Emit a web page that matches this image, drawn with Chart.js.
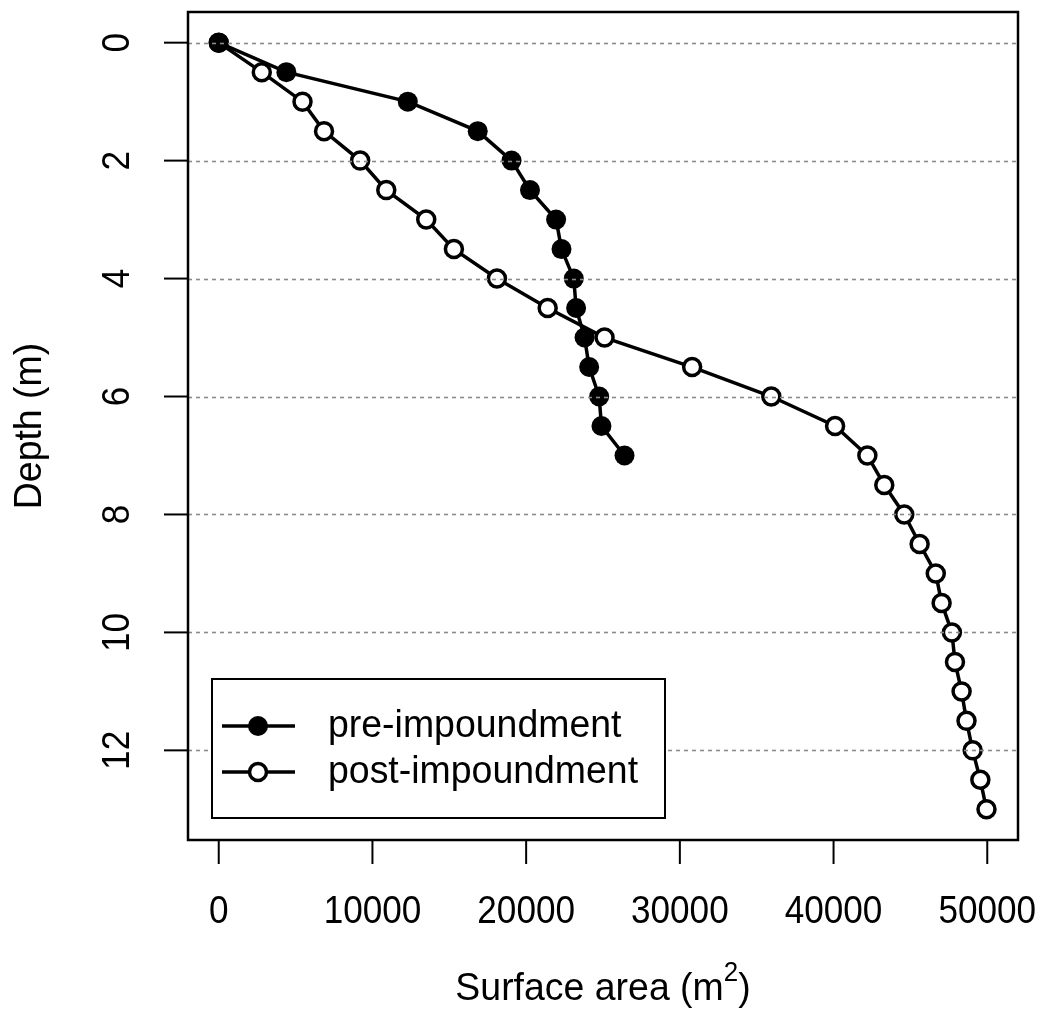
<!DOCTYPE html>
<html>
<head>
<meta charset="utf-8">
<script src="https://cdn.jsdelivr.net/npm/chart.js@4.4.1/dist/chart.umd.min.js"></script>
<style>
  html, body { margin: 0; padding: 0; background: #fff; }
</style>
</head>
<body>
<canvas id="depth-area-chart" width="1045" height="1016"></canvas>
<script>
const preDepth = [0, 0.5, 1, 1.5, 2, 2.5, 3, 3.5, 4, 4.5, 5, 5.5, 6, 6.5, 7];
const preArea = [0, 4400, 12300, 16850, 19050, 20250, 21950, 22300, 23100, 23250, 23800, 24100, 24750, 24900, 26400];

const postDepth = [0, 0.5, 1, 1.5, 2, 2.5, 3, 3.5, 4, 4.5, 5, 5.5, 6, 6.5, 7, 7.5, 8, 8.5, 9, 9.5, 10, 10.5, 11, 11.5, 12, 12.5, 13];
const postArea = [0, 2800, 5450, 6850, 9200, 10900, 13500, 15300, 18100, 21400, 25100, 30800, 35950, 40100, 42200, 43300, 44600, 45600, 46650, 47030, 47700, 47900, 48330, 48650, 49050, 49550, 49950];

const depthTicks = [0, 2, 4, 6, 8, 10, 12];
const areaTicks = [0, 10000, 20000, 30000, 40000, 50000];
const seriesNames = ['pre-impoundment', 'post-impoundment'];

const FONT = '"Liberation Sans", Arial, Helvetica, sans-serif';

const toPoints = (xs, ys) => xs.map((x, i) => ({ x, y: ys[i] }));

// text with a slight horizontal squeeze, the reference font is narrower than Arial
const drawText = (ctx, text, x, y, opts) => {
    const { size, sx = 1, rotate = 0, align = 'center', baseline = 'middle' } = opts;
    ctx.save();
    ctx.translate(x, y);
    if (rotate) {
        ctx.rotate(rotate);
    }
    ctx.scale(sx, 1);
    ctx.font = `${size}px ${FONT}`;
    ctx.textAlign = align;
    ctx.textBaseline = baseline;
    ctx.fillStyle = '#000';
    ctx.fillText(text, 0, 0);
    ctx.restore();
};

const textWidth = (ctx, text, size, sx) => {
    ctx.save();
    ctx.font = `${size}px ${FONT}`;
    const w = ctx.measureText(text).width * sx;
    ctx.restore();
    return w;
};

const drawMarker = (ctx, x, y, filled) => {
    ctx.beginPath();
    if (filled) {
        ctx.arc(x, y, 10, 0, Math.PI * 2);
        ctx.fillStyle = '#000';
        ctx.fill();
    } else {
        ctx.arc(x, y, 8.5, 0, Math.PI * 2);
        ctx.fillStyle = '#fff';
        ctx.fill();
        ctx.lineWidth = 3.5;
        ctx.strokeStyle = '#000';
        ctx.stroke();
    }
};

// R-style frame: dotted grid over the points, box, outside ticks, labels, legend
const rFrame = {
    id: 'rFrame',
    afterDatasetsDraw(chart) {
        const { ctx, chartArea: area, scales } = chart;
        const ys = scales.y;

        ctx.save();
        ctx.strokeStyle = '#8a8a8a';
        ctx.lineWidth = 1.6;
        ctx.setLineDash([4, 4]);
        depthTicks.forEach((d) => {
            const y = Math.round(ys.getPixelForValue(d)) + 0.5;
            ctx.beginPath();
            ctx.moveTo(area.left, y);
            ctx.lineTo(area.right, y);
            ctx.stroke();
        });
        ctx.restore();
    },
    afterDraw(chart) {
        const { ctx, chartArea: area, scales } = chart;
        const xs = scales.x;
        const ys = scales.y;

        ctx.save();
        ctx.strokeStyle = '#000';

        // box
        ctx.lineWidth = 2.5;
        ctx.strokeRect(area.left, area.top, area.right - area.left, area.bottom - area.top);

        // x axis ticks + labels
        ctx.lineWidth = 2;
        areaTicks.forEach((v) => {
            const x = xs.getPixelForValue(v);
            ctx.beginPath();
            ctx.moveTo(x, area.bottom);
            ctx.lineTo(x, area.bottom + 24);
            ctx.stroke();
            drawText(ctx, String(v), x, 912, { size: 39, sx: 0.9 });
        });

        // y axis ticks + rotated labels
        depthTicks.forEach((v) => {
            const y = ys.getPixelForValue(v);
            ctx.beginPath();
            ctx.moveTo(area.left, y);
            ctx.lineTo(area.left - 24, y);
            ctx.stroke();
            drawText(ctx, String(v), 118, y, { size: 39, sx: 0.9, rotate: -Math.PI / 2 });
        });

        // x title with superscript
        const midX = (area.left + area.right) / 2;
        const base = 'Surface area (m';
        const sxT = 0.96;
        const wBase = textWidth(ctx, base, 39, sxT);
        const wSup = textWidth(ctx, '2', 27, sxT);
        const wClose = textWidth(ctx, ')', 39, sxT);
        let tx = midX - (wBase + wSup + wClose) / 2;
        drawText(ctx, base, tx, 1000, { size: 39, sx: sxT, align: 'left', baseline: 'alphabetic' });
        tx += wBase;
        drawText(ctx, '2', tx, 981, { size: 27, sx: sxT, align: 'left', baseline: 'alphabetic' });
        tx += wSup;
        drawText(ctx, ')', tx, 1000, { size: 39, sx: sxT, align: 'left', baseline: 'alphabetic' });

        // y title
        drawText(ctx, 'Depth (m)', 30, (area.top + area.bottom) / 2, { size: 39, sx: sxT, rotate: -Math.PI / 2 });

        // legend
        const box = { left: 212, top: 679, right: 665, bottom: 818 };
        ctx.fillStyle = '#fff';
        ctx.fillRect(box.left, box.top, box.right - box.left, box.bottom - box.top);
        ctx.lineWidth = 2;
        ctx.strokeStyle = '#000';
        ctx.strokeRect(box.left, box.top, box.right - box.left, box.bottom - box.top);

        const rows = [726, 772];
        seriesNames.forEach((name, i) => {
            const y = rows[i];
            ctx.lineWidth = 3.5;
            ctx.strokeStyle = '#000';
            ctx.beginPath();
            ctx.moveTo(222, y);
            ctx.lineTo(295, y);
            ctx.stroke();
            drawMarker(ctx, 258, y, i === 0);
            drawText(ctx, name, 328, y, { size: 39, sx: sxT, align: 'left' });
        });

        ctx.restore();
    },
};

new Chart(document.getElementById('depth-area-chart'), {
    type: 'scatter',
    data: {
        datasets: [
            {
                label: seriesNames[0],
                data: toPoints(preArea, preDepth),
                showLine: true,
                borderColor: '#000',
                borderWidth: 3.5,
                pointRadius: 10,
                pointBackgroundColor: '#000',
                pointBorderColor: '#000',
                pointBorderWidth: 0,
            },
            {
                label: seriesNames[1],
                data: toPoints(postArea, postDepth),
                showLine: true,
                borderColor: '#000',
                borderWidth: 3.5,
                pointRadius: 8.5,
                pointBackgroundColor: '#fff',
                pointBorderColor: '#000',
                pointBorderWidth: 3.5,
            },
        ],
    },
    options: {
        responsive: false,
        devicePixelRatio: 1,
        animation: false,
        layout: {
            padding: { left: 188, right: 27, top: 12, bottom: 176 },
        },
        plugins: {
            legend: { display: false },
            tooltip: { enabled: false },
        },
        scales: {
            x: { type: 'linear', min: -2000, max: 52000, display: false },
            y: { type: 'linear', min: -0.52, max: 13.52, reverse: true, display: false },
        },
    },
    plugins: [rFrame],
});
</script>
</body>
</html>
